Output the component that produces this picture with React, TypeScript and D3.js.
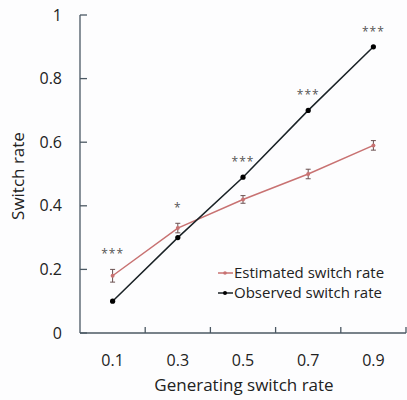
import React from 'react'
import * as d3 from 'd3'

const categories = ['0.1', '0.3', '0.5', '0.7', '0.9']
const estimated = [0.18, 0.33, 0.42, 0.5, 0.59]
const estimatedErr = [0.02, 0.015, 0.012, 0.015, 0.015]
const observed = [0.1, 0.3, 0.49, 0.7, 0.9]
const stars = ['***', '*', '***', '***', '***']
const yTicks = [0, 0.2, 0.4, 0.6, 0.8, 1]

const width = 407
const height = 400
const left = 80
const right = 406
const top = 15
const bottom = 333
const axisColor = '#4b5863'
const red = '#c87272'
const font = 'Open Sans, sans-serif'

export default function App() {
  const x = d3.scaleBand().domain(categories).range([left, right])
  const y = d3.scaleLinear().domain([0, 1]).range([bottom, top])
  const cx = (c: string) => (x(c) as number) + x.bandwidth() / 2

  const line = d3.line<number>()
    .x((_, i) => cx(categories[i]))
    .y(d => y(d))

  return (
    <svg width={width} height={height} style={{ position: 'absolute', left: 0, top: 0, background: '#fdfdfe' }}>
      {/* axes */}
      <line x1={left} x2={left} y1={top} y2={bottom} stroke={axisColor} strokeWidth={1.3} />
      <line x1={left} x2={right} y1={bottom} y2={bottom} stroke={axisColor} strokeWidth={1.3} />
      {yTicks.map(t => (
        <g key={t}>
          <line x1={left} x2={left + 7} y1={y(t)} y2={y(t)} stroke={axisColor} strokeWidth={1.3} />
          <text x={62} y={y(t)} dy="0.35em" textAnchor="end" fontSize={16} fontFamily={font} fill="#222">{t}</text>
        </g>
      ))}
      {categories.map(c => (
        <g key={c}>
          <line x1={(x(c) as number) + x.bandwidth()} x2={(x(c) as number) + x.bandwidth()} y1={bottom} y2={bottom - 6} stroke={axisColor} strokeWidth={1.3} />
          <text x={cx(c)} y={366} textAnchor="middle" fontSize={16} fontFamily={font} fill="#222">{c}</text>
        </g>
      ))}
      <text x={(left + right) / 2 + 1} y={391} textAnchor="middle" fontSize={17} fontFamily={font} fill="#222">Generating switch rate</text>
      <text transform={`translate(24,${(top + bottom) / 2 + 2}) rotate(-90)`} textAnchor="middle" fontSize={17} fontFamily={font} fill="#222">Switch rate</text>

      {/* estimated series */}
      <path d={line(estimated) || ''} fill="none" stroke={red} strokeWidth={1.5} />
      {estimated.map((v, i) => {
        const px = cx(categories[i])
        const e = estimatedErr[i]
        return (
          <g key={i} stroke="#6b5050" strokeWidth={1}>
            <line x1={px} x2={px} y1={y(v - e)} y2={y(v + e)} />
            <line x1={px - 2.5} x2={px + 2.5} y1={y(v - e)} y2={y(v - e)} />
            <line x1={px - 2.5} x2={px + 2.5} y1={y(v + e)} y2={y(v + e)} />
            <circle cx={px} cy={y(v)} r={2} fill={red} stroke="none" />
          </g>
        )
      })}

      {/* observed series */}
      <path d={line(observed) || ''} fill="none" stroke="#1a2226" strokeWidth={1.5} />
      {observed.map((v, i) => (
        <circle key={i} cx={cx(categories[i])} cy={y(v)} r={2.6} fill="#000" />
      ))}

      {/* significance stars */}
      {stars.map((s, i) => {
        const top2 = Math.max(observed[i], estimated[i] + estimatedErr[i])
        return (
          <text key={i} x={cx(categories[i])} y={y(top2) - 11} textAnchor="middle" fontSize={12} fontFamily={font} fill="#555" letterSpacing={1}>{s}</text>
        )
      })}

      {/* legend */}
      <g fontFamily={font} fontSize={15} fill="#222">
        <line x1={218} x2={233} y1={273} y2={273} stroke={red} strokeWidth={1.5} />
        <circle cx={225} cy={273} r={1.8} fill={red} />
        <text x={234} y={273} dy="0.35em">Estimated switch rate</text>
        <line x1={218} x2={233} y1={293} y2={293} stroke="#1a2226" strokeWidth={1.5} />
        <circle cx={225} cy={293} r={2} fill="#000" />
        <text x={234} y={293} dy="0.35em">Observed switch rate</text>
      </g>
    </svg>
  )
}
